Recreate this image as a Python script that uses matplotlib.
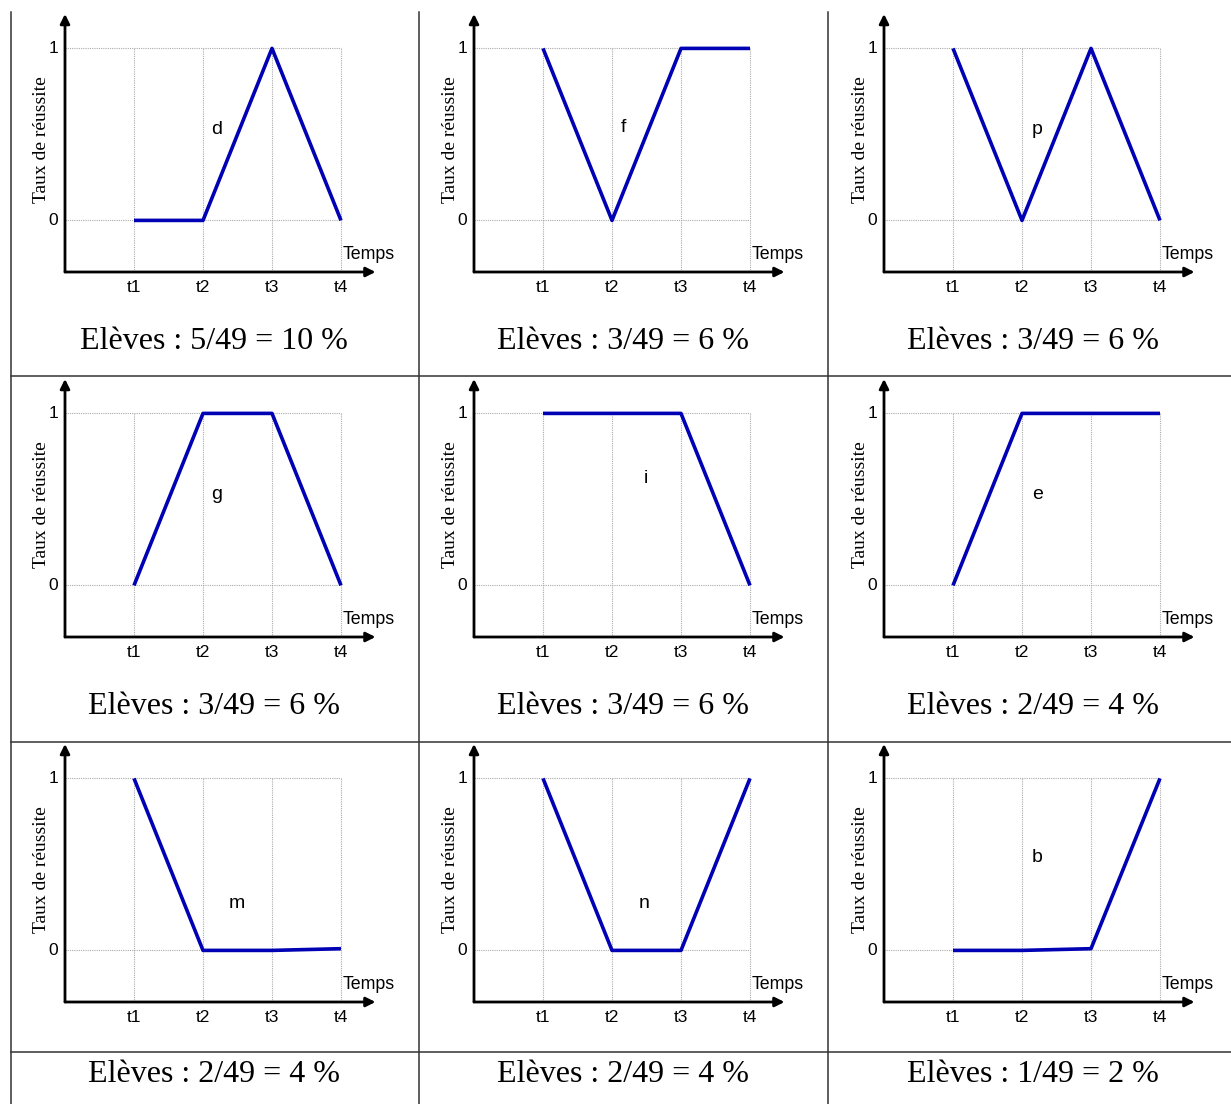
import matplotlib
matplotlib.use("Agg")
import matplotlib.pyplot as plt
from matplotlib.lines import Line2D

# données : taux de réussite aux instants t1..t4
temps = [1, 2, 3, 4]
temps_labels = ["t1", "t2", "t3", "t4"]

serie_d = [0, 0, 1, 0]
serie_f = [1, 0, 1, 1]
serie_p = [1, 0, 1, 0]
serie_g = [0, 1, 1, 0]
serie_i = [1, 1, 1, 0]
serie_e = [0, 1, 1, 1]
serie_m = [1, 0, 0, 0.01]
serie_n = [1, 0, 0, 1]
serie_b = [0, 0, 0.01, 1]

lettres = ["d", "f", "p", "g", "i", "e", "m", "n", "b"]
eleves = [5, 3, 3, 3, 3, 2, 2, 2, 1]
total = 49
pourcents = [10, 6, 6, 6, 6, 4, 4, 4, 2]

series = [serie_d, serie_f, serie_p, serie_g, serie_i, serie_e, serie_m, serie_n, serie_b]

# position de la lettre dans chaque graphique (en unités des axes)
pos_lettres = [(2.2, 0.53), (2.17, 0.54), (2.22, 0.53),
               (2.2, 0.53), (2.49, 0.62), (2.22, 0.53),
               (2.49, 0.27), (2.46, 0.27), (2.22, 0.54)]

W, H = 1231, 1104
fig = plt.figure(figsize=(W / 100, H / 100), dpi=100)
fig.patch.set_facecolor("white")

serif = "Liberation Serif"
sans = "Liberation Sans"
bleu = "#0000b4"

col_x = [65, 474, 884]     # position de l'axe vertical (px)
row_y = [272, 637, 1002]   # position de l'axe horizontal (px)
cap_y = [342, 707, 1074]
px_x, px_y = 69, 172
xmin, xmax, ymin, ymax = 0, 4.5, -0.3, 1.2

for k in range(9):
    r, c = divmod(k, 3)
    x0, y0 = col_x[c], row_y[r]
    w = (xmax - xmin) * px_x
    h = (ymax - ymin) * px_y
    ax = fig.add_axes([x0 / W, (H - y0) / H, w / W, h / H])
    ax.set_xlim(xmin, xmax)
    ax.set_ylim(ymin, ymax)
    ax.axis("off")

    # grille pointillée
    ax.vlines(temps, ymin, 1, colors="#aaaaaa", linestyles=(0, (1, 1)), lw=0.8)
    ax.hlines([0, 1], 0, 4, colors="#aaaaaa", linestyles=(0, (1, 1)), lw=0.8)

    # axes fléchés
    ax.annotate("", xy=(4.5, ymin), xytext=(0, ymin),
                arrowprops=dict(arrowstyle="-|>", lw=2, color="black", mutation_scale=14,
                                shrinkA=0, shrinkB=0), annotation_clip=False)
    ax.annotate("", xy=(0, ymax), xytext=(0, ymin),
                arrowprops=dict(arrowstyle="-|>", lw=2, color="black", mutation_scale=14,
                                shrinkA=0, shrinkB=0), annotation_clip=False)

    ax.plot(temps, series[k], color=bleu, lw=2.6, solid_capstyle="butt", clip_on=False)

    for t, lab in zip(temps, temps_labels):
        ax.text(t, -0.39, lab, ha="center", va="center", fontsize=12.5, family=sans, clip_on=False)
    ax.text(-0.17, 0, "0", ha="center", va="center", fontsize=12.5, family=sans)
    ax.text(-0.17, 1, "1", ha="center", va="center", fontsize=12.5, family=sans)
    ax.text(4.03, -0.2, "Temps", ha="left", va="center", fontsize=12.8, family=sans, clip_on=False)
    ax.text(-0.34, 0.47, "Taux de réussite", rotation=90, ha="center", va="center",
            fontsize=14, family=serif)
    lx, ly = pos_lettres[k]
    ax.text(lx, ly, lettres[k], ha="center", va="center", fontsize=14, family=sans)

    fig.text((x0 + 149) / W, 1 - cap_y[r] / H,
             f"Elèves : {eleves[k]}/{total} = {pourcents[k]} %",
             ha="center", va="center", fontsize=23, family=serif)

# traits du tableau
def trait(x1, y1, x2, y2):
    fig.add_artist(Line2D([x1 / W, x2 / W], [1 - y1 / H, 1 - y2 / H],
                          color="#333333", lw=1.1))

for x in [11, 419, 828]:
    trait(x, 12, x, H)
for y in [376, 742, 1052]:
    trait(11, y, W, y)

fig.savefig("out.png", dpi=100)
